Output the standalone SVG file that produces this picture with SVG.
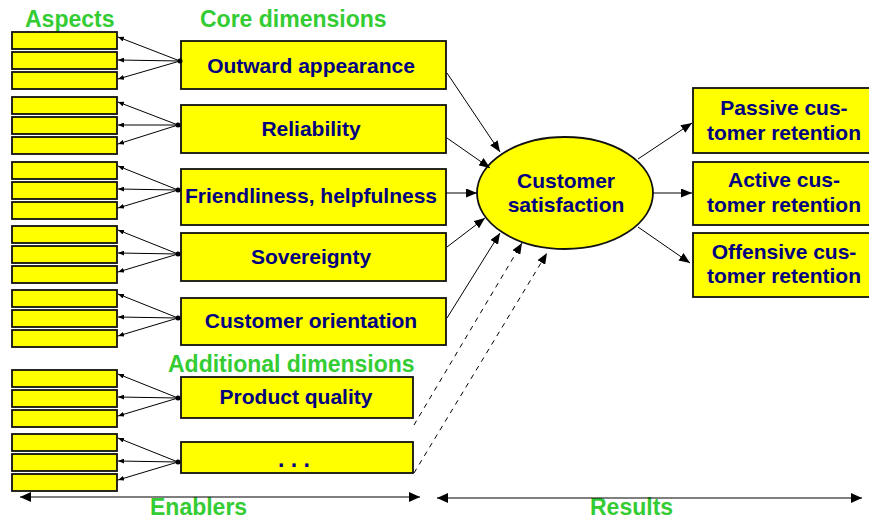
<svg xmlns="http://www.w3.org/2000/svg" width="869" height="525" viewBox="0 0 869 525">
<defs>
<marker id="ah" viewBox="0 0 11 9" refX="11" refY="4.5" markerWidth="11" markerHeight="9" markerUnits="userSpaceOnUse" orient="auto"><path d="M0,0 L11,4.5 L0,9 z" fill="#000"/></marker>
<marker id="as" viewBox="0 0 6 5" refX="6" refY="2.5" markerWidth="6" markerHeight="5" markerUnits="userSpaceOnUse" orient="auto"><path d="M0,0 L6,2.5 L0,5 z" fill="#000"/></marker>
<marker id="ab" viewBox="0 0 11 10" refX="11" refY="5" markerWidth="11" markerHeight="10" markerUnits="userSpaceOnUse" orient="auto-start-reverse"><path d="M0,0 L11,5 L0,10 z" fill="#000"/></marker>
</defs>
<style>
.asp{fill:#ffff00;stroke:#111;stroke-width:1.8}
.box{fill:#ffff00;stroke:#111;stroke-width:1.8}
.t{font-family:"Liberation Sans",Arial,sans-serif;font-weight:bold;font-size:21px;fill:#000080;text-anchor:middle}
.dots{font-family:"Liberation Sans",Arial,sans-serif;font-weight:bold;font-size:23px;fill:#000080;text-anchor:middle}
.g{font-family:"Liberation Sans",Arial,sans-serif;font-weight:bold;font-size:23px;fill:#33cc33}
.ln{stroke:#000;stroke-width:1.2;fill:none}
.fan{stroke:#000;stroke-width:1;fill:none;marker-end:url(#as)}
.arr{stroke:#000;stroke-width:1;fill:none;marker-end:url(#ah)}
.dash{stroke:#000;stroke-width:1;fill:none;stroke-dasharray:5,5;marker-end:url(#ah)}
</style>
<rect width="869" height="525" fill="#fff"/>

<g id="labels">
<text class="g" x="25" y="27">Aspects</text>
<text class="g" x="200" y="27">Core dimensions</text>
<text class="g" x="168" y="372">Additional dimensions</text>
<text class="g" x="150" y="515">Enablers</text>
<text class="g" x="590" y="515">Results</text>
</g>

<g id="aspects">
<rect class="asp" x="12" y="32" width="105" height="17"/><rect class="asp" x="12" y="52" width="105" height="17"/><rect class="asp" x="12" y="72" width="105" height="17"/>
<rect class="asp" x="12" y="97" width="105" height="17"/><rect class="asp" x="12" y="117" width="105" height="17"/><rect class="asp" x="12" y="137" width="105" height="17"/>
<rect class="asp" x="12" y="162" width="105" height="17"/><rect class="asp" x="12" y="182" width="105" height="17"/><rect class="asp" x="12" y="202" width="105" height="17"/>
<rect class="asp" x="12" y="226" width="105" height="17"/><rect class="asp" x="12" y="246" width="105" height="17"/><rect class="asp" x="12" y="266" width="105" height="17"/>
<rect class="asp" x="12" y="290" width="105" height="17"/><rect class="asp" x="12" y="310" width="105" height="17"/><rect class="asp" x="12" y="330" width="105" height="17"/>
<rect class="asp" x="12" y="370" width="105" height="17"/><rect class="asp" x="12" y="390" width="105" height="17"/><rect class="asp" x="12" y="410" width="105" height="17"/>
<rect class="asp" x="12" y="434" width="105" height="17"/><rect class="asp" x="12" y="454" width="105" height="17"/><rect class="asp" x="12" y="474" width="105" height="17"/>
</g>

<g id="n-outward"><rect class="box" x="181" y="41" width="265" height="48"/><text class="t" x="311" y="73">Outward appearance</text></g>
<g id="n-reliability"><rect class="box" x="181" y="105" width="265" height="48"/><text class="t" x="311" y="136">Reliability</text></g>
<g id="n-friendliness"><rect class="box" x="181" y="169" width="265" height="56"/><text class="t" x="311" y="203">Friendliness, helpfulness</text></g>
<g id="n-sovereignty"><rect class="box" x="181" y="233" width="265" height="48"/><text class="t" x="311" y="264">Sovereignty</text></g>
<g id="n-orientation"><rect class="box" x="181" y="298" width="265" height="47"/><text class="t" x="311" y="328">Customer orientation</text></g>
<g id="n-product"><rect class="box" x="181" y="377" width="232" height="41"/><text class="t" x="296" y="404">Product quality</text></g>
<g id="n-more"><rect class="box" x="181" y="442" width="232" height="31"/><text class="dots" x="294" y="467">. . .</text></g>

<g id="n-satisfaction"><ellipse class="box" cx="565" cy="193" rx="88" ry="56"/><text class="t" x="566" y="188">Customer</text><text class="t" x="566" y="212">satisfaction</text></g>

<g id="n-passive"><rect class="box" x="693" y="88" width="185" height="65"/><text class="t" x="784" y="115">Passive cus-</text><text class="t" x="784" y="140">tomer retention</text></g>
<g id="n-active"><rect class="box" x="693" y="162" width="185" height="63"/><text class="t" x="784" y="187">Active cus-</text><text class="t" x="784" y="212">tomer retention</text></g>
<g id="n-offensive"><rect class="box" x="693" y="233" width="185" height="64"/><text class="t" x="784" y="259">Offensive cus-</text><text class="t" x="784" y="283">tomer retention</text></g>

<g id="connectors">
<g fill="#000">
<circle cx="180" cy="61" r="2.5"/><circle cx="178" cy="125" r="2.5"/><circle cx="178" cy="190" r="2.5"/><circle cx="178" cy="254" r="2.5"/><circle cx="178" cy="318" r="2.5"/><circle cx="178" cy="398" r="2.5"/><circle cx="178" cy="462" r="2.5"/>
</g>
<path class="fan" d="M180,61 L118,37"/><path class="fan" d="M180,61 L118,60"/><path class="fan" d="M180,61 L118,79"/>
<path class="fan" d="M178,125 L118,102"/><path class="fan" d="M178,125 L118,125"/><path class="fan" d="M178,125 L118,144"/>
<path class="fan" d="M178,190 L118,166"/><path class="fan" d="M178,190 L118,189"/><path class="fan" d="M178,190 L118,208"/>
<path class="fan" d="M178,254 L118,230"/><path class="fan" d="M178,254 L118,253"/><path class="fan" d="M178,254 L118,272"/>
<path class="fan" d="M178,318 L118,294"/><path class="fan" d="M178,318 L118,317"/><path class="fan" d="M178,318 L118,336"/>
<path class="fan" d="M178,398 L118,374"/><path class="fan" d="M178,398 L118,397"/><path class="fan" d="M178,398 L118,416"/>
<path class="fan" d="M178,462 L118,438"/><path class="fan" d="M178,462 L118,461"/><path class="fan" d="M178,462 L118,480"/>

<path class="arr" d="M447,73 L500,152"/>
<path class="arr" d="M447,138 L490,168"/>
<path class="arr" d="M446,193 L477,193"/>
<path class="arr" d="M447,247 L485,218"/>
<path class="arr" d="M447,318 L500,233"/>
<path class="dash" d="M414,425 L522,243"/>
<path class="dash" d="M414,473 L547,253"/>

<path class="arr" d="M638,159 L692,123"/>
<path class="arr" d="M653,193 L692,193"/>
<path class="arr" d="M638,227 L690,263"/>

<path class="ln" d="M20,497 L420,497" marker-start="url(#ab)" marker-end="url(#ab)"/>
<path class="ln" d="M437,498 L862,498" marker-start="url(#ab)" marker-end="url(#ab)"/>
</g>
</svg>
